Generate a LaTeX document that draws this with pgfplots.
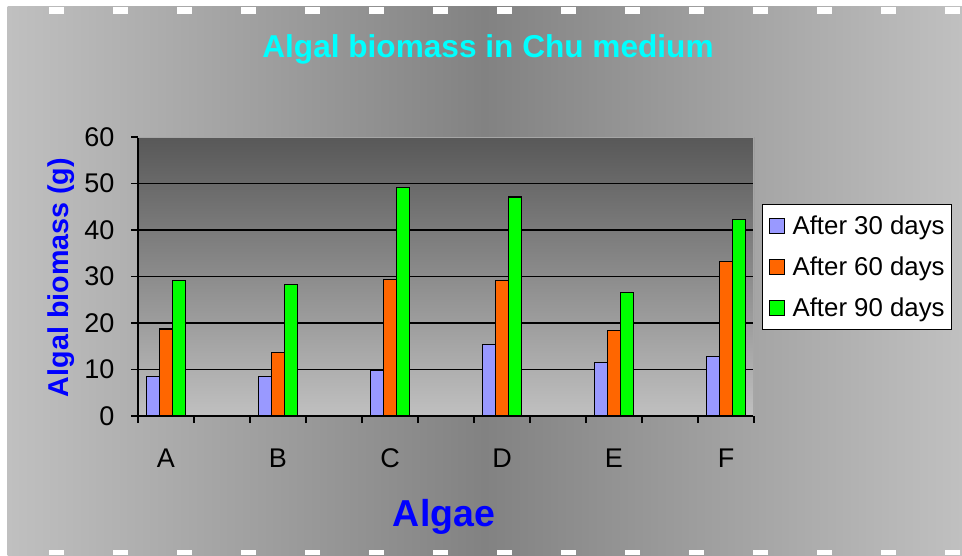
\documentclass[border=0pt]{standalone}
\usepackage{pgfplots}
\pgfplotsset{compat=1.18}
\usepackage{fontspec}
\setmainfont{Liberation Sans}
\definecolor{bgedge}{HTML}{C0C0C0}
\definecolor{bgmid}{HTML}{828282}
\definecolor{pltop}{HTML}{585858}
\definecolor{plbot}{HTML}{C0C0C0}
\definecolor{cA}{HTML}{9999FF}
\definecolor{cB}{HTML}{FF6600}
\definecolor{cC}{HTML}{00FF00}
\definecolor{ttl}{HTML}{00FFFF}
\definecolor{lbl}{HTML}{0000FF}
\begin{document}
\begin{tikzpicture}[x=1pt,y=1pt]
\useasboundingbox (0,0) rectangle (962,555);
\fill[white] (0,0) rectangle (962,555);
\shade[left color=bgedge, right color=bgedge, middle color=bgmid] (7.5,0) rectangle (962,548);
\draw[white, line width=7pt, dash pattern=on 15pt off 49pt, dash phase=15pt] (0,544.5) -- (962,544.5);
\draw[white, line width=5pt, dash pattern=on 15pt off 49pt, dash phase=15pt] (0,2.5) -- (962,2.5);
\begin{axis}[
  name=ax,
  scale only axis, width=616pt, height=279pt,
  at={(138pt,139pt)}, anchor=south west,
  xmin=-0.5, xmax=10.5, ymin=0, ymax=60,
  ytick={0,10,...,50},
  extra y ticks={60}, extra y tick style={grid=none},
  xtick={-0.5,0.5,...,10.5}, xticklabels={},
  extra x ticks={0,2,4,6,8,10},
  extra x tick labels={A,B,C,D,E,F},
  extra x tick style={major tick length=0pt, grid=none},
  ymajorgrids,
  major grid style={black, line width=1.1pt},
  axis x line*=bottom, axis y line*=left,
  axis line style={black, line width=1.2pt},
  tick align=outside, major tick length=7pt,
  tick style={black, line width=1.2pt},
  tick label style={font=\fontsize{27}{30}\selectfont},
  /pgf/number format/assume math mode=true,
  yticklabel style={xshift=-13pt},
  xticklabel style={yshift=-29pt},
  ybar=0pt, bar width=13pt,
  axis background/.style={shade, top color=pltop, bottom color=plbot},
  legend style={at={(rel axis cs:1.013,0.760)}, anchor=north west,
    draw=black, fill=white, line width=1pt,
    font=\fontsize{25.8}{30}\selectfont, row sep=17pt, column sep=6pt,
    inner xsep=5pt, inner ysep=9pt},
  legend cell align=left,
  legend image code/.code={\path (0pt,0pt); \draw[#1, line width=1pt] (1pt,-7.5pt) rectangle (16pt,7.5pt);},
]
\addplot[fill=cA, draw=black, line width=1.2pt] coordinates {(0,8.5) (2,8.5) (4,9.8) (6,15.4) (8,11.5) (10,12.8)};
\addplot[fill=cB, draw=black, line width=1.2pt] coordinates {(0,18.7) (2,13.7) (4,29.4) (6,29.1) (8,18.4) (10,33.3)};
\addplot[fill=cC, draw=black, line width=1.2pt] coordinates {(0,29.1) (2,28.3) (4,49.2) (6,47.1) (8,26.5) (10,42.3)};
\legend{After 30 days, After 60 days, After 90 days}
\draw[gray!70, line width=1.2pt] (rel axis cs:0,1) -- (rel axis cs:1,1) -- (rel axis cs:1,0);
\end{axis}
\node[font=\bfseries\fontsize{31.6}{36}\selectfont, text=ttl, anchor=base] at (488,497) {Algal biomass in Chu medium};
\node[font=\bfseries\fontsize{37.5}{42}\selectfont, text=lbl, anchor=base] at (444,29) {Algae};
\node[font=\bfseries\fontsize{28.7}{32}\selectfont, text=lbl, anchor=base, rotate=90] at (68,277.5) {Algal biomass (g)};
\end{tikzpicture}
\end{document}
